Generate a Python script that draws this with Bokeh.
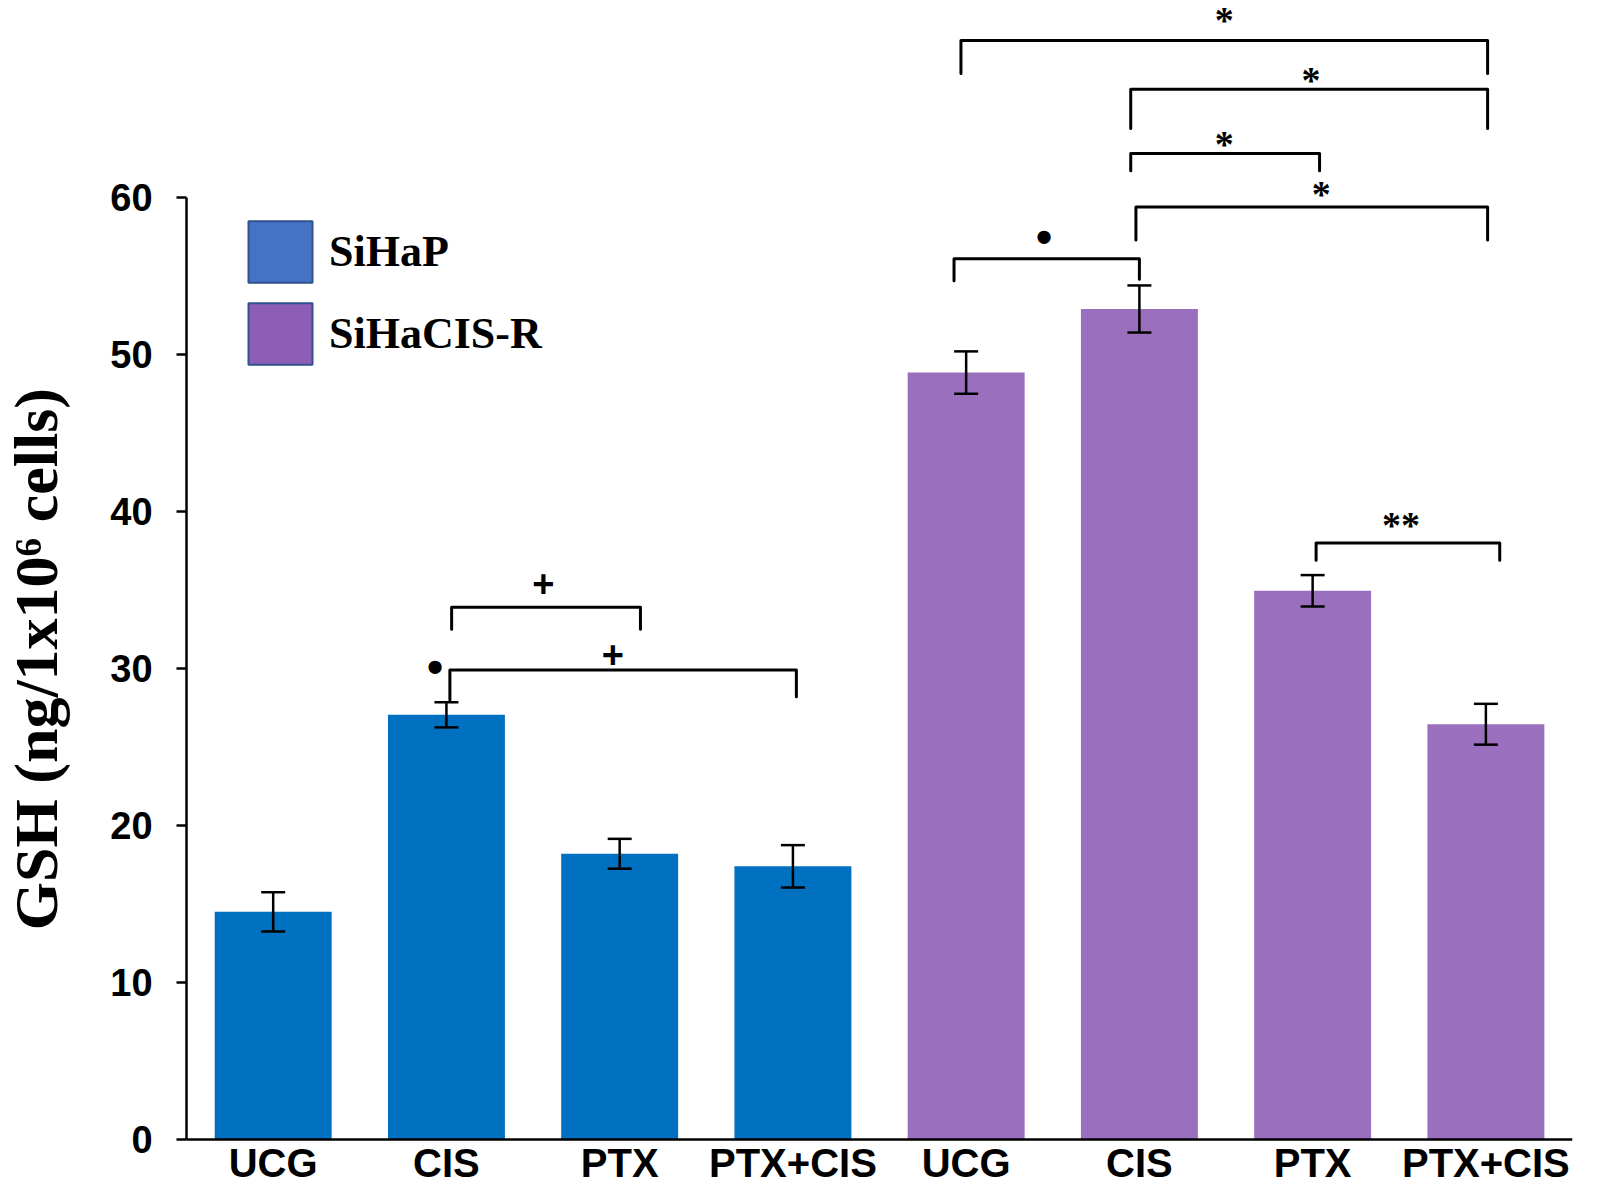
import math
from bokeh.plotting import figure
from bokeh.models import (Range1d, FixedTicker, Whisker, TeeHead, ColumnDataSource,
                          Legend, LegendItem, LinearAxis)
from bokeh.core.properties import value
from bokeh.embed import file_html
from bokeh.resources import INLINE

# ---------------- data ----------------
tick_labels = ["UCG", "CIS", "PTX", "PTX+CIS", "UCG", "CIS", "PTX", "PTX+CIS"]
groups = ["SiHaP", "SiHaCIS-R"]
sihap_mean = [14.5, 27.05, 18.2, 17.4]
sihap_err = [1.25, 0.8, 0.95, 1.35]
sihacis_mean = [48.85, 52.9, 34.95, 26.45]
sihacis_err = [1.35, 1.5, 1.0, 1.3]
y_ticks = [0, 10, 20, 30, 40, 50, 60]
y_label = "GSH (ng/1x10\u2076 cells)"

# significance brackets (x in bar-index units, y in data units)
br_x1 = [3.97, 4.95, 4.95, 4.98, 3.93, 6.02, 1.03, 1.02]
br_x2 = [7.01, 7.01, 6.04, 7.01, 5.00, 7.08, 2.12, 3.02]
br_top = [70.0, 66.9, 62.8, 59.4, 56.1, 38.0, 33.9, 29.9]
br_left = [67.9, 64.4, 61.7, 57.3, 54.7, 36.9, 32.5, 28.0]
br_right = [67.9, 64.4, 61.7, 57.3, 54.8, 36.9, 32.5, 28.2]

star_text = ["*", "*", "*", "*", "**"]
star_x = [5.49, 5.99, 5.49, 6.05, 6.51]
star_y = [71.7, 67.9, 63.8, 60.6, 39.5]
plus_text = ["+", "+"]
plus_x = [1.56, 1.96]
plus_y = [35.4, 30.9]
dot_text = ["•", "•"]
dot_x = [4.45, 0.935]
dot_y = [57.5, 30.1]

BLUE = "#0070C0"
PURPLE = "#9A6FBD"

X0, X1 = -0.5, 7.5      # extent of the category axis
Y0, Y1 = 0, 60          # extent of the value axis

# ---------------- figure ----------------
p = figure(width=1604, height=1189, output_backend="svg", toolbar_location=None,
           x_range=Range1d(-1.574, X1), y_range=Range1d(-3.185, 72.55),
           min_border_left=0, min_border_right=32, min_border_top=0,
           min_border_bottom=0, x_axis_location=None, y_axis_location=None)
p.outline_line_color = None
p.grid.visible = False
p.background_fill_color = "white"

# bars
n = len(sihap_mean)
xs_a = list(range(n))
xs_b = [n + i for i in range(n)]
p.vbar(x=xs_a, top=sihap_mean, width=0.675, fill_color=BLUE, line_color=None)
p.vbar(x=xs_b, top=sihacis_mean, width=0.675, fill_color=PURPLE, line_color=None)

# error bars
xs_all = xs_a + xs_b
means = sihap_mean + sihacis_mean
errs = sihap_err + sihacis_err
err_src = ColumnDataSource(dict(x=xs_all,
                                upper=[m + e for m, e in zip(means, errs)],
                                lower=[m - e for m, e in zip(means, errs)]))
w = Whisker(base="x", upper="upper", lower="lower", source=err_src,
            line_color="black", line_width=2.5, level="overlay",
            upper_head=TeeHead(size=24, line_width=2.5, line_color="black"),
            lower_head=TeeHead(size=24, line_width=2.5, line_color="black"))
p.add_layout(w)

# brackets
bxs = [[a, a, b, b] for a, b in zip(br_x1, br_x2)]
bys = [[l, t, t, r] for l, t, r in zip(br_left, br_top, br_right)]
p.multi_line(xs=bxs, ys=bys, line_color="black", line_width=3,
             line_join="round", line_cap="round")

# significance symbols
p.text(x=star_x, y=star_y, text=star_text, text_align="center",
       text_baseline="middle", y_offset=6,
       text_font=value("Liberation Serif"), text_font_style="bold",
       text_font_size="38px", text_color="black")
p.text(x=plus_x, y=plus_y, text=plus_text, text_align="center",
       text_baseline="middle", text_font=value("Liberation Sans"),
       text_font_style="bold", text_font_size="38px", text_color="black")
p.text(x=dot_x, y=dot_y, text=dot_text, text_align="center",
       text_baseline="middle", text_font=value("Liberation Sans"),
       text_font_style="bold", text_font_size="46px", text_color="black")

# y axis (drawn at the left end of the category span)
yax = LinearAxis(ticker=FixedTicker(ticks=y_ticks), bounds=(Y0, Y1))
yax.fixed_location = X0
yax.major_label_text_font = "Liberation Sans"
yax.major_label_text_font_style = "bold"
yax.major_label_text_font_size = "38px"
yax.major_label_text_color = "black"
yax.major_label_standoff = 24
yax.major_tick_out = 10
yax.major_tick_in = 0
yax.minor_tick_out = 0
yax.minor_tick_in = 0
yax.axis_line_width = 2.5
yax.major_tick_line_width = 2.5
yax.axis_line_color = "black"
p.add_layout(yax, "left")

# y-axis title, centred on the 0-60 span, left of the tick labels
p.text(x=[-1.37], y=[(Y0 + Y1) / 2 + 0.6], text=[y_label], angle=math.pi / 2,
       text_align="center", text_baseline="middle",
       text_font=value("Liberation Serif"), text_font_style="bold",
       text_font_size="62px", text_color="black")

# x axis (at y = 0)
xax = LinearAxis(ticker=FixedTicker(ticks=xs_all), bounds=(X0, X1),
                 major_label_overrides={i: lab for i, lab in zip(xs_all, tick_labels)})
xax.fixed_location = Y0
xax.major_label_text_font = "Liberation Sans"
xax.major_label_text_font_style = "bold"
xax.major_label_text_font_size = "40px"
xax.major_label_text_color = "black"
xax.major_label_standoff = 2
xax.major_tick_out = 0
xax.major_tick_in = 0
xax.minor_tick_out = 0
xax.minor_tick_in = 0
xax.axis_line_width = 2.5
xax.axis_line_color = "black"
p.add_layout(xax, "below")

# legend (swatches drawn from zero-size placeholder bars)
r1 = p.vbar(x=[0], top=[0], width=0, fill_color="#4472C4", line_color="#2F528F", line_width=2)
r2 = p.vbar(x=[0], top=[0], width=0, fill_color="#8E5DB5", line_color="#2F528F", line_width=2)
legend = Legend(items=[LegendItem(label=groups[0], renderers=[r1]),
                       LegendItem(label=groups[1], renderers=[r2])],
                location=(240, 817), glyph_width=80, glyph_height=77,
                label_height=77, spacing=5, padding=0, margin=0, label_standoff=9,
                label_text_font="Liberation Serif", label_text_font_style="bold",
                label_text_font_size="44px", label_text_color="black",
                border_line_alpha=0, background_fill_alpha=0)
p.add_layout(legend)

open("out.html", "w").write(file_html(p, INLINE))
